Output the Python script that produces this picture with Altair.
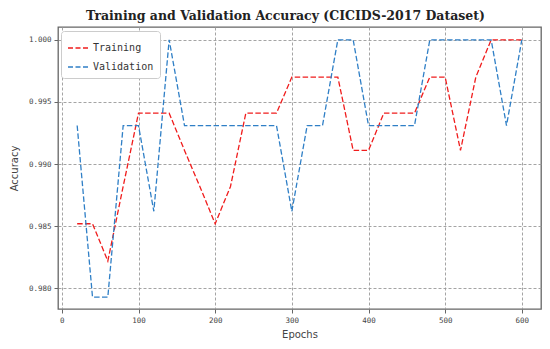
import altair as alt
import pandas as pd

epochs = [20, 40, 60, 80, 100, 120, 140, 160, 180, 200,
          220, 240, 260, 280, 300, 320, 340, 360, 380, 400,
          420, 440, 460, 480, 500, 520, 540, 560, 580, 600]
training = [0.9852, 0.9852, 0.9822, 0.9882, 0.9941, 0.9941, 0.9941, 0.9911, 0.9882, 0.9852,
            0.9882, 0.9941, 0.9941, 0.9941, 0.9970, 0.9970, 0.9970, 0.9970, 0.9911, 0.9911,
            0.9941, 0.9941, 0.9941, 0.9970, 0.9970, 0.9911, 0.9970, 1.0000, 1.0000, 1.0000]
validation = [0.9931, 0.9793, 0.9793, 0.9931, 0.9931, 0.9862, 1.0000, 0.9931, 0.9931, 0.9931,
              0.9931, 0.9931, 0.9931, 0.9931, 0.9862, 0.9931, 0.9931, 1.0000, 1.0000, 0.9931,
              0.9931, 0.9931, 0.9931, 1.0000, 1.0000, 1.0000, 1.0000, 1.0000, 0.9931, 1.0000]
series = ["Training", "Validation"]
colors = ["#f01c1c", "#2f7fc6"]
x_ticks = [0, 100, 200, 300, 400, 500, 600]
y_ticks = [0.980, 0.985, 0.990, 0.995, 1.000]

df = pd.concat([
    pd.DataFrame({"Epochs": epochs, "Accuracy": training, "Series": series[0], "order": 0}),
    pd.DataFrame({"Epochs": epochs, "Accuracy": validation, "Series": series[1], "order": 1}),
])

mono = "DejaVu Sans Mono"
sans = "DejaVu Sans"

chart = alt.Chart(df).mark_line(strokeDash=[5.5, 2.4], strokeWidth=1.3).encode(
    x=alt.X("Epochs:Q",
            scale=alt.Scale(domain=[-5, 625], nice=False, zero=False),
            axis=alt.Axis(values=x_ticks, format="d", title="Epochs",
                          titlePadding=6)),
    y=alt.Y("Accuracy:Q",
            scale=alt.Scale(domain=[0.97834, 1.00103], nice=False, zero=False),
            axis=alt.Axis(values=y_ticks, format=".3f", title="Accuracy",
                          titlePadding=9)),
    color=alt.Color("Series:N",
                    scale=alt.Scale(domain=series, range=colors),
                    legend=alt.Legend(title=None, orient="none", legendX=3, legendY=4,
                                      symbolType="stroke", symbolDash=[5, 2.5],
                                      symbolStrokeWidth=1.5, symbolSize=400,
                                      labelFont=mono, labelFontSize=10, labelColor="#333",
                                      rowPadding=3, padding=6, cornerRadius=3,
                                      strokeColor="#cccccc", fillColor="#ffffff")),
    detail="Series:N",
    order="order:Q",
).properties(
    width=483,
    height=282,
    title=alt.TitleParams("Training and Validation Accuracy (CICIDS-2017 Dataset)",
                          font="DejaVu Serif", fontSize=12.5, fontWeight="bold",
                          color="#222", offset=5, dx=-14),
    padding={"left": 50, "top": 19, "right": 1, "bottom": 32},
    autosize=alt.AutoSizeParams(type="none"),
).configure_view(
    stroke="#666666", strokeWidth=1.3
).configure_axis(
    grid=True, gridColor="#9a9a9a", gridDash=[3, 2], gridWidth=0.9,
    domain=False, ticks=True, tickColor="#666", tickSize=4, tickWidth=1,
    labelFont=mono, labelFontSize=7.5, labelColor="#444", labelPadding=3,
    titleFont=sans, titleFontSize=10, titleFontWeight="normal", titleColor="#444",
)

chart.save("out.html", embed_options={"renderer": "svg", "actions": False})
